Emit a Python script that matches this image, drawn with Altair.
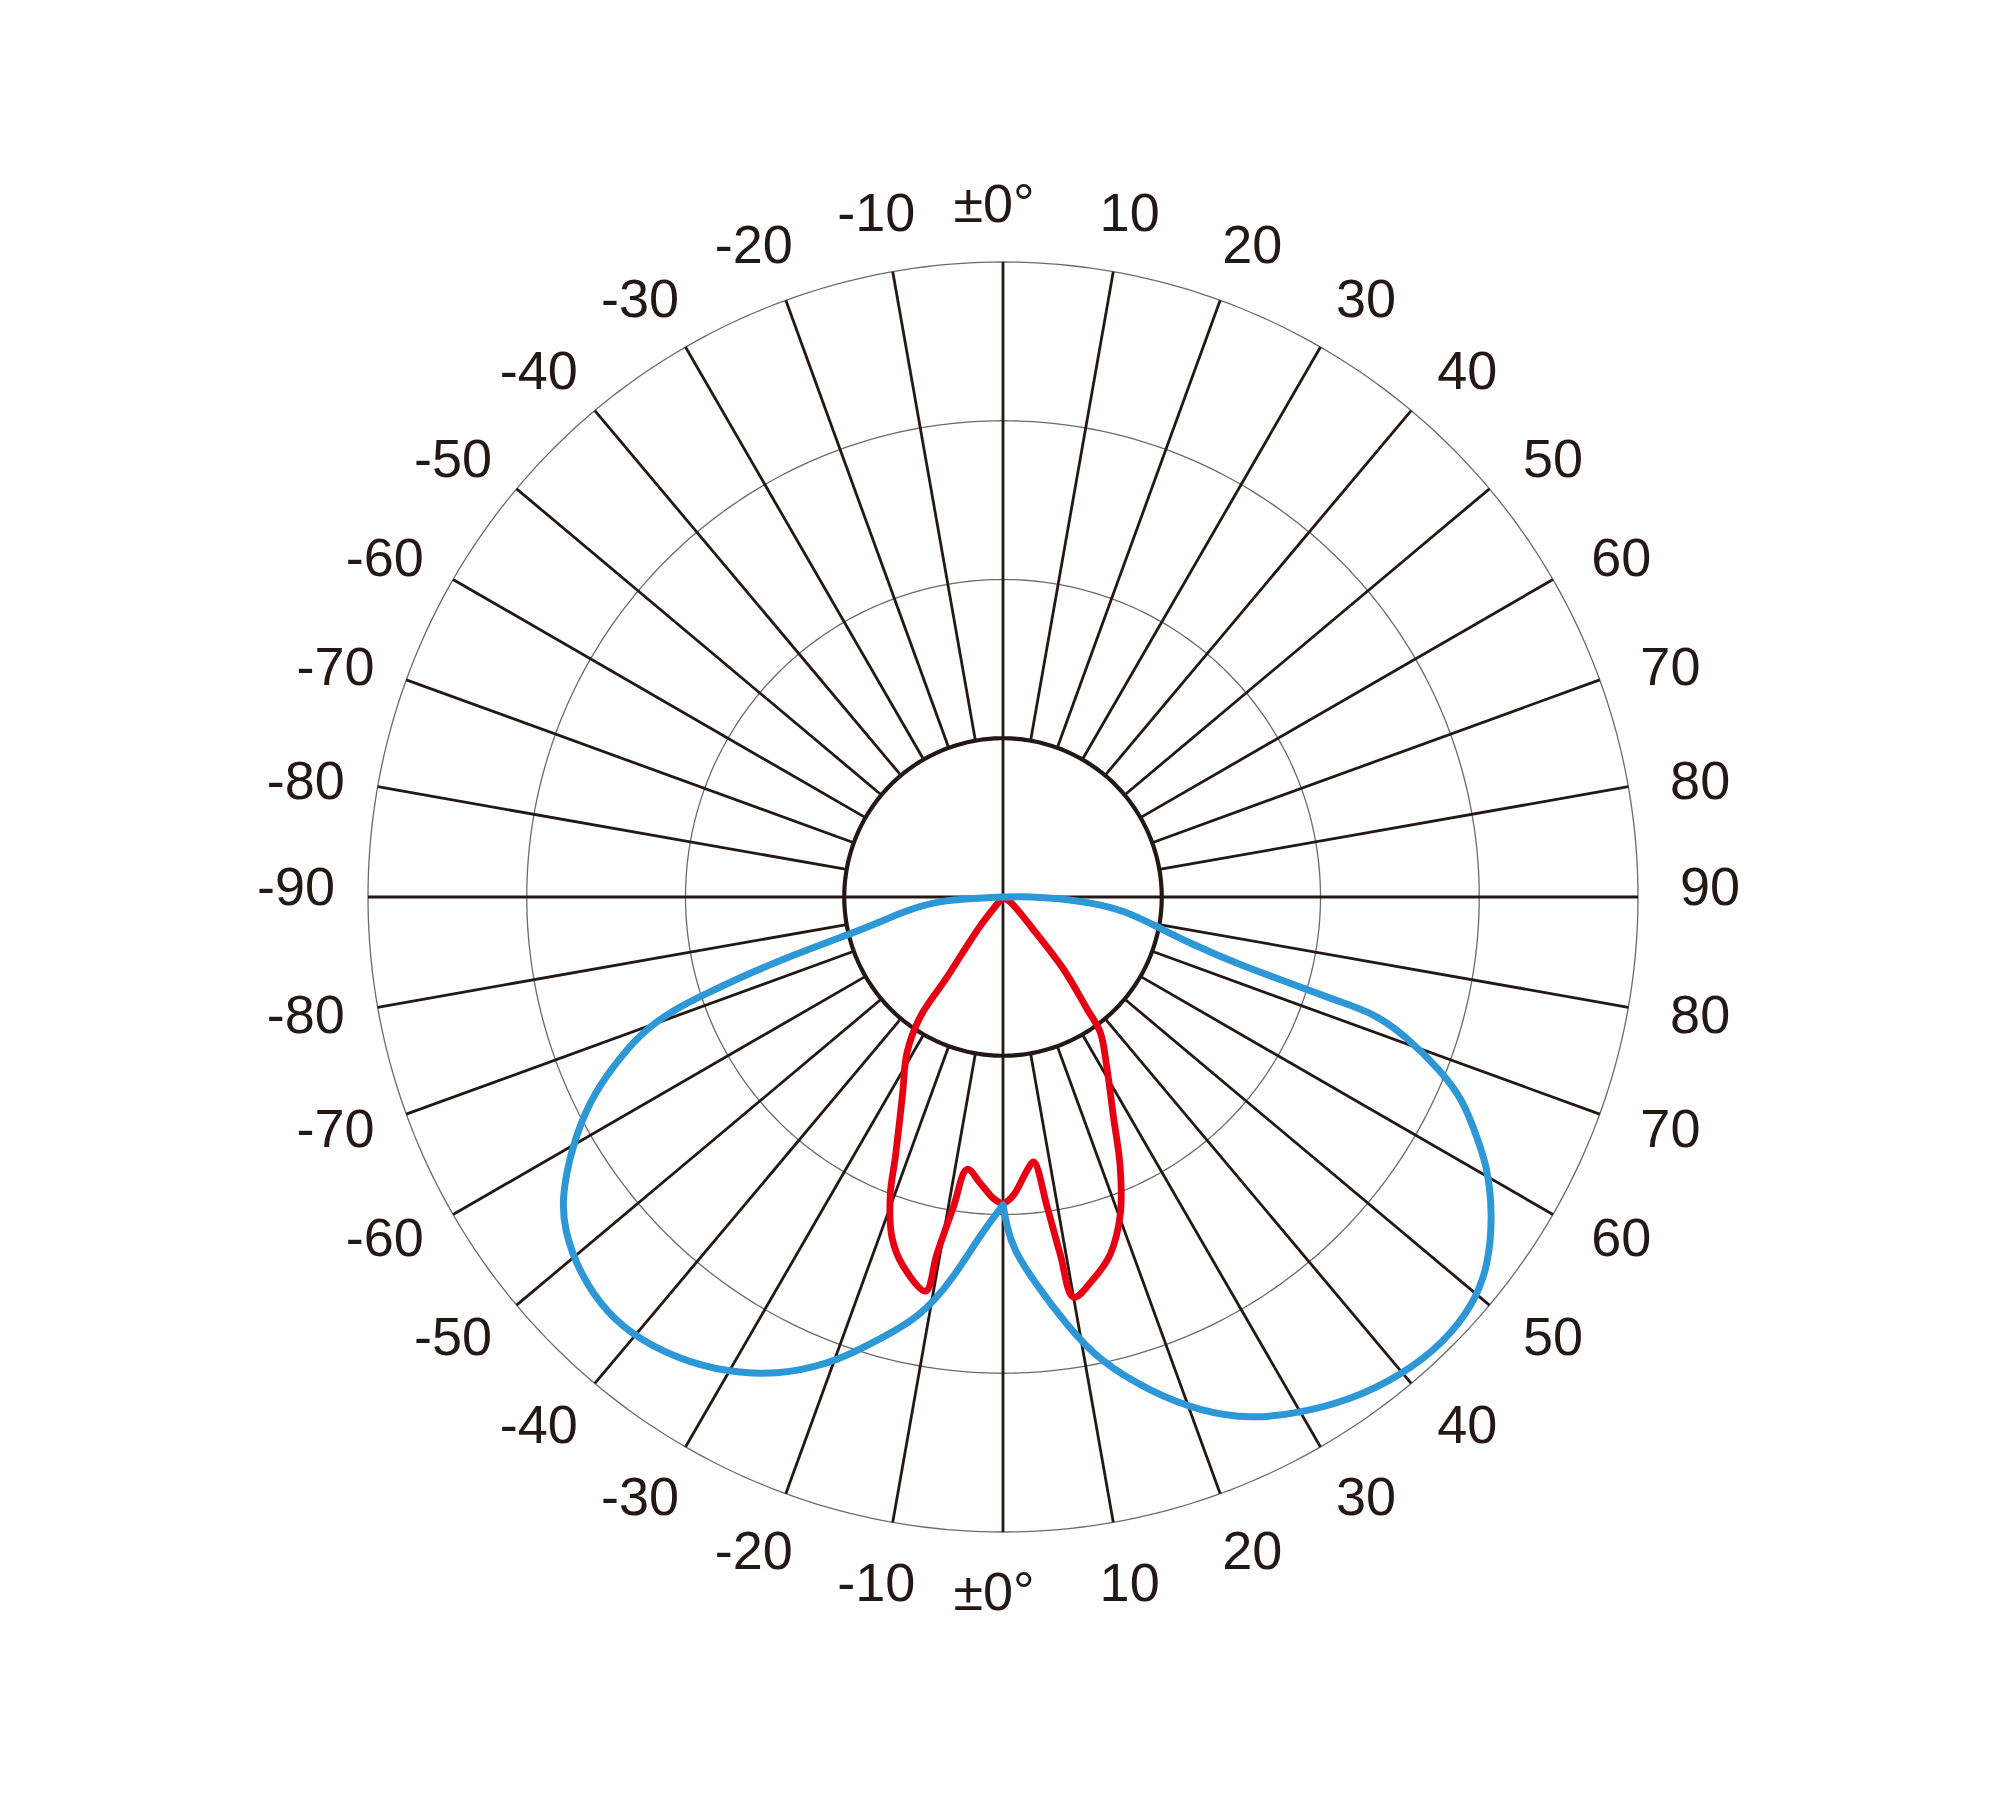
import altair as alt
import pandas as pd

# ---- grid definition -------------------------------------------------------
ring_radii = [100, 200, 300, 400]          # intensity rings (outer = 400)
spoke_angles = list(range(0, 360, 10))     # spokes every 10 degrees
top_values = list(range(-90, 91, 10))      # labels, upper half (angle from up)
bottom_values = list(range(-80, 81, 10))   # labels, lower half (angle from down)

# ---- curves: gamma = angle from nadir (deg, + to the right), r = intensity --
blue_gamma = [-90, -87.5, -86.6, -82.3, -77.8, -76.3, -74.9, -73.5, -72, -71.1,
              -69.4, -66.5, -63.8, -59.9, -55.8, -52.8, -48.3, -43.6, -39.3,
              -33.9, -28.9, -24.1, -19.4, -16.4, -11.1, -7.4, -3.8, 0, 0.7,
              1.7, 4.6, 8.5, 11.8, 16.6, 21, 25.4, 29.9, 34.6, 39.6,
              44.7, 49.1, 52.8, 57.2, 60.9, 62.9, 66.2, 68.4, 70.9, 72.6,
              72.7, 73.3, 74, 76.1, 79.1, 83.8, 86.3, 88.5, 91,
              100]
blue_r = [0, 19, 40, 61, 84, 101, 128, 162, 196, 220,
          244, 268, 290, 314, 336, 347, 357, 362, 361,
          354, 343, 329, 309, 293, 270, 242, 213, 194, 208,
          222, 243, 273, 299, 325, 347, 364, 375, 385, 392,
          395, 392, 384, 367, 349, 336, 317, 296, 269, 245,
          222, 189, 155, 121, 99, 76, 55, 35, 18,
          0]

red_gamma = [-40, -38.2, -34.9, -34.6, -31.7, -26.9, -22.6, -20.7, -18.0, -15.1,
             -11.1, -10.5, -9.1, -7.5, -4.5, -1.8, 0, 2.0, 5.0, 6.6,
             8.1, 9.1, 10.0, 13.4, 16.7, 20.3, 23.5, 26.8, 31.3, 35.7,
             36.9, 40, 43, 55, 60]
red_r = [0, 23, 62, 92, 115, 140, 176, 201, 226, 241,
         253, 229, 198, 173, 181, 190, 193, 188, 173, 168,
         197, 228, 256, 247, 235, 213, 185, 154, 126, 105,
         88, 59, 28, 6, 0]

# ---- tables ----------------------------------------------------------------
rings_df = pd.DataFrame([{"ring": rr, "t": t} for rr in ring_radii for t in range(0, 361, 1)])
spokes_df = pd.DataFrame({"phi": spoke_angles})

def lab(v, half):
    kind = "zero" if v == 0 else ("side" if abs(v) == 90 else "n")
    return {"text": ("±0°" if v == 0 else str(v)), "v": v, "vs": 1 if half == "top" else -1, "kind": kind}

labels_df = pd.DataFrame([lab(v, "top") for v in top_values] + [lab(v, "bottom") for v in bottom_values])
curves_df = pd.concat([
    pd.DataFrame({"series": "C0-C180", "idx": range(len(blue_gamma)), "gamma": blue_gamma, "r": blue_r}),
    pd.DataFrame({"series": "C90-C270", "idx": range(len(red_gamma)), "gamma": red_gamma, "r": red_r}),
], ignore_index=True)

# ---- geometry of the plot --------------------------------------------------
W, H = 1984, 1780
PX = 635 / 400.0
CX, CY = 995, 889
xs = alt.Scale(domain=[-CX / PX, (W - CX) / PX], nice=False, zero=False)
ys = alt.Scale(domain=[-(H - CY) / PX, CY / PX], nice=False, zero=False)

INK = "#231815"

def X(field="x"):
    return alt.X(f"{field}:Q", scale=xs, axis=None)

def Y(field="y"):
    return alt.Y(f"{field}:Q", scale=ys, axis=None)

ring_base = alt.Chart(rings_df).transform_calculate(
    x="datum.ring * sin(datum.t * PI / 180)",
    y="datum.ring * cos(datum.t * PI / 180)",
)
rings_thin = ring_base.transform_filter("datum.ring > 100").mark_line(
    color="#6b6b6b", strokeWidth=1.3
).encode(x=X(), y=Y(), detail="ring:N", order="t:Q")
ring_inner = ring_base.transform_filter("datum.ring == 100").mark_line(
    color=INK, strokeWidth=4.2
).encode(x=X(), y=Y(), detail="ring:N", order="t:Q")

spokes = alt.Chart(spokes_df).transform_calculate(
    r0="datum.phi % 90 == 0 ? 0 : 100",
).transform_calculate(
    x="datum.r0 * sin(datum.phi * PI / 180)",
    y="datum.r0 * cos(datum.phi * PI / 180)",
    x2="400 * sin(datum.phi * PI / 180)",
    y2="400 * cos(datum.phi * PI / 180)",
).mark_rule(color=INK, strokeWidth=2.8).encode(
    x=X(), y=Y(), x2="x2:Q", y2="y2:Q"
)

lab_base = alt.Chart(labels_df).transform_calculate(
    a="abs(datum.v)",
    sg="datum.v < 0 ? -1 : 1",
).transform_calculate(
    ang="datum.a + 1.4 * sin(2 * datum.a * PI / 180)",
    lr="437.2 + 8.2 * sin(datum.a * PI / 180)",
).transform_calculate(
    x="datum.sg * datum.lr * sin(datum.ang * PI / 180)",
    y="datum.vs * datum.lr * cos(datum.ang * PI / 180)",
)
txt = dict(font="Liberation Sans", fontSize=54, color=INK, align="center", baseline="middle")
labels_n = lab_base.transform_filter("datum.kind == 'n'").mark_text(dy=3, **txt).encode(x=X(), y=Y(), text="text:N")
labels_0 = lab_base.transform_filter("datum.kind == 'zero'").mark_text(dx=-9, dy=3, **txt).encode(x=X(), y=Y(), text="text:N")
labels_90 = lab_base.transform_filter("datum.kind == 'side'").mark_text(dy=-8, **txt).encode(x=X(), y=Y(), text="text:N")

curve_base = alt.Chart(curves_df).transform_calculate(
    x="datum.r * sin(datum.gamma * PI / 180)",
    y="-datum.r * cos(datum.gamma * PI / 180)",
)
red = curve_base.transform_filter("datum.series == 'C90-C270'").mark_line(
    color="#E60012", strokeWidth=6.8, interpolate="catmull-rom", strokeCap="round", strokeJoin="round"
).encode(x=X(), y=Y(), order="idx:Q")
blue_style = dict(color="#2E97D6", strokeWidth=7, interpolate="basis", strokeCap="round", strokeJoin="round")
blue_left = curve_base.transform_filter("datum.series == 'C0-C180' && datum.gamma <= 0").mark_line(
    **blue_style
).encode(x=X(), y=Y(), order="idx:Q")
blue_right = curve_base.transform_filter("datum.series == 'C0-C180' && datum.gamma >= 0").mark_line(
    **blue_style
).encode(x=X(), y=Y(), order="idx:Q")

chart = alt.layer(
    rings_thin, spokes, ring_inner, red, blue_left, blue_right, labels_n, labels_0, labels_90
).properties(
    width=W, height=H, padding=0, autosize="none", background="white"
).configure_view(stroke=None)

chart.save("out.html", embed_options={"renderer": "svg", "actions": False})
